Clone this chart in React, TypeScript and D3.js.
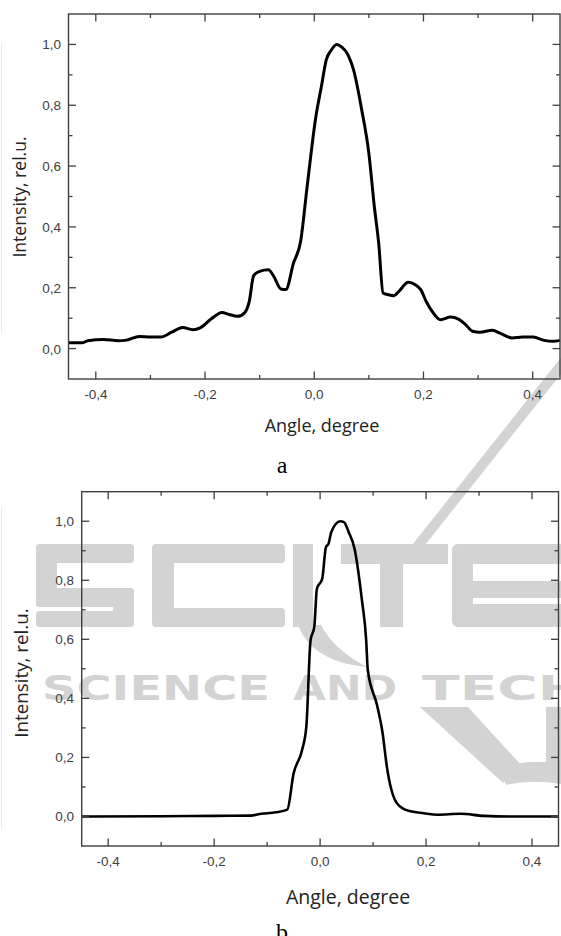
import React from "react";
import * as d3 from "d3";

// panel (a): intensity profile
const anglesA = [
  -0.45, -0.425, -0.415, -0.386, -0.359, -0.346, -0.32, -0.3, -0.281, -0.261, -0.241, -0.222, -0.209,
  -0.189, -0.169, -0.156, -0.14, -0.127, -0.119, -0.111, -0.1, -0.084, -0.074, -0.061, -0.052, -0.038,
  -0.025, -0.013, 0.003, 0.013, 0.022, 0.031, 0.041, 0.05, 0.062, 0.072, 0.087, 0.1, 0.11, 0.118, 0.126,
  0.136, 0.146, 0.155, 0.172, 0.185, 0.195, 0.205, 0.218, 0.231, 0.25, 0.264, 0.277, 0.29, 0.303, 0.326,
  0.342, 0.362, 0.382, 0.401, 0.421, 0.437, 0.45,
];
const intensityA = [
  0.019, 0.019, 0.026, 0.03, 0.026, 0.027, 0.04, 0.038, 0.038, 0.054, 0.069, 0.062, 0.068,
  0.097, 0.119, 0.112, 0.106, 0.119, 0.155, 0.24, 0.254, 0.259, 0.237, 0.196, 0.194, 0.281,
  0.352, 0.533, 0.763, 0.861, 0.949, 0.981, 1.0, 0.992, 0.965, 0.916, 0.784, 0.642, 0.467, 0.347, 0.183,
  0.177, 0.174, 0.188, 0.218, 0.21, 0.194, 0.155, 0.117, 0.095, 0.104, 0.097, 0.079, 0.057, 0.054, 0.06,
  0.049, 0.035, 0.038, 0.038, 0.027, 0.024, 0.027,
];

// panel (b)
const anglesB = [
  -0.45, -0.3, -0.198, -0.131, -0.111, -0.084, -0.062, -0.05, -0.034, -0.026, -0.018, -0.011, -0.006,
  0.004, 0.011, 0.016, 0.021, 0.038, 0.045, 0.054, 0.065, 0.079, 0.087, 0.09, 0.1075, 0.118, 0.126,
  0.145, 0.167, 0.196, 0.221, 0.265, 0.309, 0.357, 0.45,
];
const intensityB = [
  0.0, 0.001, 0.002, 0.003, 0.009, 0.014, 0.023, 0.146, 0.225, 0.304, 0.597, 0.642, 0.772,
  0.805, 0.912, 0.924, 0.963, 1.0, 0.997, 0.963, 0.907, 0.732, 0.597, 0.496, 0.377, 0.282, 0.169,
  0.045, 0.019, 0.011, 0.006, 0.009, 0.002, 0.0, 0.0,
];

const xMajor = [-0.4, -0.2, 0, 0.2, 0.4];
const xMinor = [-0.3, -0.1, 0.1, 0.3];
const yMajor = [0, 0.2, 0.4, 0.6, 0.8, 1.0];
const yMinor = [0.1, 0.3, 0.5, 0.7, 0.9];

const xTitle = "Angle, degree";
const yTitle = "Intensity, rel.u.";

const fmt = (v: number) => (v < -1e-9 ? "-" : "") + Math.abs(v).toFixed(1).replace(".", ",");

const FRAME = "#3f3f3f";
const WM = "#d3d3d3";

type PanelProps = {
  xs: number[];
  ys: number[];
  box: { l: number; r: number; t: number; b: number };
  lw: number;
  tickEnd: number;
  xt: { x: number; y: number; size: number };
  yt: { x: number; y: number; size: number };
  letter: { text: string; x: number; y: number };
};

function Panel({ xs, ys, box, lw, tickEnd, xt, yt, letter }: PanelProps) {
  const x = d3.scaleLinear().domain([-0.45, 0.45]).range([box.l, box.r]);
  const y = d3.scaleLinear().domain([-0.1, 1.1]).range([box.b, box.t]);
  const pts = xs.map((v, i) => [v, ys[i]] as [number, number]);
  const line = d3.line<[number, number]>().x(d => x(d[0])).y(d => y(d[1])).curve(d3.curveMonotoneX);
  const big = 7.5, small = 4;
  return (
    <g>
      <path d={line(pts) || ""} fill="none" stroke="#000" strokeWidth={lw} strokeLinejoin="round" />
      <rect x={box.l} y={box.t} width={box.r - box.l} height={box.b - box.t} fill="none" stroke={FRAME} strokeWidth={1.4} />
      {xMajor.concat(xMinor).map((v, i) => {
        const len = i < xMajor.length ? big : small;
        return (
          <g key={"x" + i} stroke={FRAME} strokeWidth={1.3}>
            <line x1={x(v)} x2={x(v)} y1={box.b} y2={box.b - len} />
            <line x1={x(v)} x2={x(v)} y1={box.t} y2={box.t + len} />
          </g>
        );
      })}
      {yMajor.concat(yMinor).map((v, i) => {
        const len = i < yMajor.length ? big : small;
        return (
          <g key={"y" + i} stroke={FRAME} strokeWidth={1.3}>
            <line x1={box.l} x2={box.l + len} y1={y(v)} y2={y(v)} />
            <line x1={box.r} x2={box.r - len} y1={y(v)} y2={y(v)} />
          </g>
        );
      })}
      <g fontFamily="'Liberation Sans', Arial, sans-serif" fontSize={13.5} fill="#404040">
        {xMajor.map(v => (
          <text key={"xl" + v} x={x(v)} y={box.b + 20} textAnchor="middle">{fmt(v)}</text>
        ))}
        {yMajor.map(v => (
          <text key={"yl" + v} x={tickEnd} y={y(v) + 5} textAnchor="end">{fmt(v)}</text>
        ))}
      </g>
      <text x={xt.x} y={xt.y} textAnchor="middle" fontFamily="'Open Sans', sans-serif" fontSize={xt.size} fill="#222">{xTitle}</text>
      <text transform={`translate(${yt.x},${yt.y}) rotate(-90)`} textAnchor="middle" fontFamily="'Open Sans', sans-serif" fontSize={yt.size} fill="#222">{yTitle}</text>
      <text x={letter.x} y={letter.y} textAnchor="middle" fontFamily="'Liberation Serif', serif" fontSize={24} fill="#000">{letter.text}</text>
    </g>
  );
}

function Watermark() {
  return (
    <g fill={WM}>
      {/* S */}
      <rect x={36} y={544} width={98} height={19} rx={4} />
      <rect x={36} y={544} width={21} height={63} rx={4} />
      <rect x={36} y={588} width={98} height={19} rx={4} />
      <rect x={113} y={588} width={21} height={39} rx={4} />
      <rect x={36} y={611} width={98} height={16} rx={4} />
      {/* C */}
      <rect x={152} y={544} width={133} height={19} rx={4} />
      <rect x={152} y={544} width={22} height={83} rx={8} />
      <rect x={152} y={608} width={133} height={19} rx={4} />
      {/* I with accent and swoosh */}
      <rect x={293} y={544} width={20} height={83} />
      <polygon points="575,340 588,340 425,545 412,545" />
      <path d="M 298 625 Q 312 662 367 667 Q 334 650 321 625 Z" />
      {/* T */}
      <rect x={341} y={544} width={107} height={20} />
      <rect x={380} y={544} width={23} height={83} />
      {/* E */}
      <rect x={452} y={544} width={130} height={20} rx={6} />
      <rect x={452} y={544} width={21} height={83} rx={8} />
      <rect x={473} y={581} width={109} height={17} />
      <rect x={452} y={604} width={130} height={23} rx={6} />
      <g fontFamily="'DejaVu Sans', sans-serif" fontWeight="bold" fontSize={34}>
        <text x={42} y={700} textLength={228} lengthAdjust="spacingAndGlyphs">SCIENCE</text>
        <text x={293} y={700} textLength={104} lengthAdjust="spacingAndGlyphs">AND</text>
        <text x={422} y={700} textLength={162} lengthAdjust="spacingAndGlyphs">TECH</text>
      </g>
      {/* check mark */}
      <path d="M 420 707 L 468 707 L 522 766 L 503 783 Z" />
      <path d="M 500 768 Q 530 758 561 764 L 561 784 Q 530 779 506 785 Z" />
      <rect x={546} y={707} width={15} height={68} />
    </g>
  );
}

export default function App() {
  return (
    <svg
      width={561}
      height={936}
      style={{ position: "absolute", left: 0, top: 0, display: "block", background: "#fff" }}
    >
      <rect width={561} height={936} fill="#fff" />
      <line x1={1.5} x2={1.5} y1={43} y2={333} stroke="#ebebeb" strokeWidth={1} />
      <line x1={1.5} x2={1.5} y1={507} y2={830} stroke="#ebebeb" strokeWidth={1} />
      <Watermark />
      <Panel
        xs={anglesA}
        ys={intensityA}
        box={{ l: 68.5, r: 560, t: 14, b: 379 }}
        lw={3}
        tickEnd={61}
        xt={{ x: 322, y: 432, size: 18 }}
        yt={{ x: 26, y: 197, size: 17.6 }}
        letter={{ text: "a", x: 282, y: 473 }}
      />
      <Panel
        xs={anglesB}
        ys={intensityB}
        box={{ l: 81.7, r: 558.5, t: 491.7, b: 846 }}
        lw={2.6}
        tickEnd={74}
        xt={{ x: 348, y: 904, size: 19.5 }}
        yt={{ x: 28, y: 673, size: 18.8 }}
        letter={{ text: "b", x: 282, y: 940 }}
      />
    </svg>
  );
}
